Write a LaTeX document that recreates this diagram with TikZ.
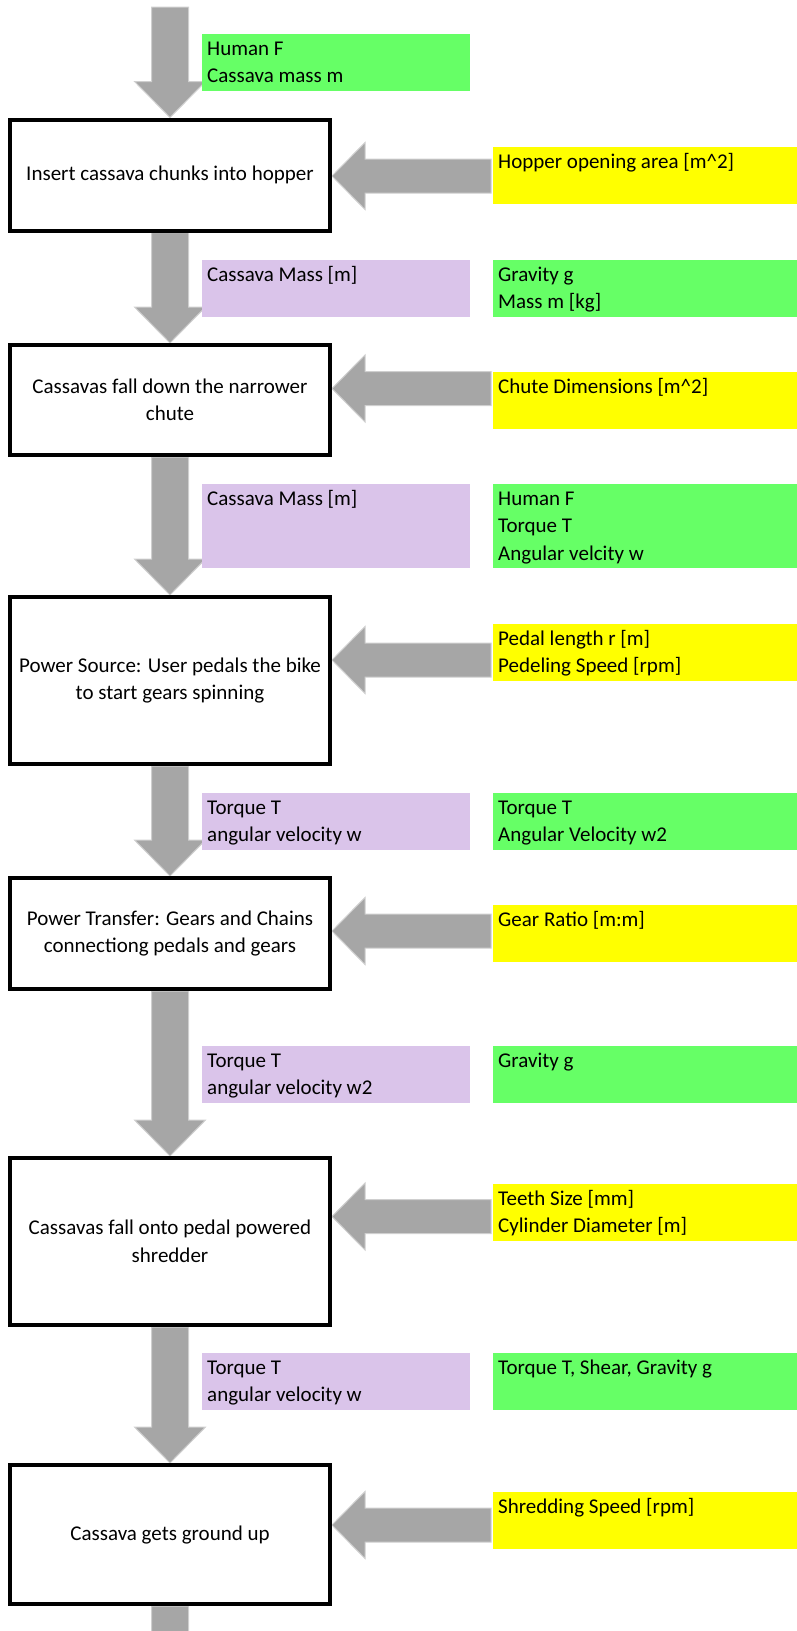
\documentclass[tikz,border=0pt]{standalone}
\usepackage{fontspec}
\setmainfont{Carlito}
\usepackage{tikz}
\usetikzlibrary{calc,backgrounds}

\definecolor{physgreen}{HTML}{66FF66}
\definecolor{designyellow}{HTML}{FFFF00}
\definecolor{flowpurple}{HTML}{DAC4EA}
\definecolor{blkgray}{HTML}{A6A6A6}
\definecolor{blkedge}{HTML}{CFCFCF}

% top aligned text of a coloured box
\newcommand{\ptext}[1]{\parbox[t]{290pt}{\rule{0pt}{19pt}#1}}
% fat down arrow from #1 to the tip #2
\newcommand{\downblk}[2]{%
  \path[blkarrow] let \p1=(#1), \p2=(#2) in
    (\x1-18.5pt,\y1) -- (\x1-18.5pt,\y2+36pt) -- (\x1-35.5pt,\y2+36pt)
    -- (\x1,\y2) -- (\x1+35.5pt,\y2+36pt) -- (\x1+18.5pt,\y2+36pt)
    -- (\x1+18.5pt,\y1) -- cycle;}
% fat left arrow from box #1 to step #2 at height #3
\newcommand{\leftblk}[3]{%
  \path[blkarrow] let \p1=(#1.west |- 0,#3), \p2=(#2.east |- 0,#3) in
    (\x1-2pt,\y1+17pt) -- (\x2+33pt,\y1+17pt) -- (\x2+33pt,\y1+33.5pt)
    -- (\x2,\y1) -- (\x2+33pt,\y1-33.5pt) -- (\x2+33pt,\y1-17pt)
    -- (\x1-2pt,\y1-17pt) -- cycle;}

\begin{document}
\begin{tikzpicture}[x=1pt, y=1pt,
            every node/.style={font=\fontsize{21}{27.5}\selectfont},
            stepbox/.style={draw, line width=4pt, fill=white, align=center,
                            minimum width=320pt, minimum height=111pt},
            param/.style={anchor=north west, inner sep=0pt,
                          minimum width=304pt, minimum height=56.5pt},
            flow/.style={param, minimum width=268pt},
            lbl/.style={anchor=north west, inner xsep=5pt, inner ysep=2.25pt},
            blkarrow/.style={fill=blkgray, draw=blkedge, line width=1pt}]
  \useasboundingbox (0,0) rectangle (797,-1631);
  \clip (0,0) rectangle (797,-1631);

  % process steps
  \node[stepbox] (s1) at (170,-175) {Insert cassava chunks into hopper};
  \node[stepbox, minimum height=110pt] (s2) at (170,-400)
        {Cassavas fall down the narrower\\chute};
  \node[stepbox, minimum height=167pt] (s3) at (170,-680.5)
        {Power Source: User pedals the bike\\to start gears spinning};
  \node[stepbox] (s4) at (170,-933.5)
        {Power Transfer: Gears and Chains\\connectiong pedals and gears};
  \node[stepbox, minimum height=167pt] (s5) at (170,-1241.5)
        {Cassavas fall onto pedal powered\\shredder};
  \node[stepbox, minimum height=139pt] (s6) at (170,-1534.5)
        {Cassava gets ground up};

  % what flows between the steps
  \node[flow, fill=physgreen, label={[lbl, name=g0t]north west:{\ptext{Human F\\Cassava mass m}}}]
        (g0) at (202,-34) {};
  \node[flow, fill=flowpurple, label={[lbl, name=p1t]north west:{\ptext{Cassava Mass [m]}}}]
        (p1) at (202,-260) {};
  \node[flow, fill=flowpurple, minimum height=84pt,
        label={[lbl, name=p2t]north west:{\ptext{Cassava Mass [m]}}}]
        (p2) at (202,-484) {};
  \node[flow, fill=flowpurple, label={[lbl, name=p3t]north west:{\ptext{Torque T\\angular velocity w}}}]
        (p3) at (202,-793) {};
  \node[flow, fill=flowpurple, label={[lbl, name=p4t]north west:{\ptext{Torque T\\angular velocity w2}}}]
        (p4) at (202,-1046) {};
  \node[flow, fill=flowpurple, label={[lbl, name=p5t]north west:{\ptext{Torque T\\angular velocity w}}}]
        (p5) at (202,-1353) {};

  % physics
  \node[param, fill=physgreen, label={[lbl, name=g1t]north west:{\ptext{Gravity g\\Mass m [kg]}}}]
        (g1) at (493,-260) {};
  \node[param, fill=physgreen, minimum height=84pt,
        label={[lbl, name=g2t]north west:{\ptext{Human F\\Torque T\\Angular velcity w}}}]
        (g2) at (493,-484) {};
  \node[param, fill=physgreen, label={[lbl, name=g3t]north west:{\ptext{Torque T\\Angular Velocity w2}}}]
        (g3) at (493,-793) {};
  \node[param, fill=physgreen, label={[lbl, name=g4t]north west:{\ptext{Gravity g}}}]
        (g4) at (493,-1046) {};
  \node[param, fill=physgreen, label={[lbl, name=g5t]north west:{\ptext{Torque T, Shear, Gravity g}}}]
        (g5) at (493,-1353) {};

  % design parameters
  \node[param, fill=designyellow,
        label={[lbl, name=y1t]north west:{\ptext{Hopper opening area [m\textasciicircum 2]}}}]
        (y1) at (493,-147) {};
  \node[param, fill=designyellow,
        label={[lbl, name=y2t]north west:{\ptext{Chute Dimensions [m\textasciicircum 2]}}}]
        (y2) at (493,-372) {};
  \node[param, fill=designyellow,
        label={[lbl, name=y3t]north west:{\ptext{Pedal length r [m]\\Pedeling Speed [rpm]}}}]
        (y3) at (493,-624) {};
  \node[param, fill=designyellow, label={[lbl, name=y4t]north west:{\ptext{Gear Ratio [m:m]}}}]
        (y4) at (493,-905) {};
  \node[param, fill=designyellow,
        label={[lbl, name=y5t]north west:{\ptext{Teeth Size [mm]\\Cylinder Diameter [m]}}}]
        (y5) at (493,-1184) {};
  \node[param, fill=designyellow, label={[lbl, name=y6t]north west:{\ptext{Shredding Speed [rpm]}}}]
        (y6) at (493,-1492) {};

  \coordinate (feed) at (170,-7);
  \coordinate (out) at (170,-1720);

  \begin{scope}[on background layer]
    \downblk{feed}{s1.north}
    \downblk{s1.south}{s2.north}
    \downblk{s2.south}{s3.north}
    \downblk{s3.south}{s4.north}
    \downblk{s4.south}{s5.north}
    \downblk{s5.south}{s6.north}
    \downblk{s6.south}{out}

    \leftblk{y1}{s1}{-176}
    \leftblk{y2}{s2}{-388.5}
    \leftblk{y3}{s3}{-660}
    \leftblk{y4}{s4}{-931}
    \leftblk{y5}{s5}{-1216.5}
    \leftblk{y6}{s6}{-1525}
  \end{scope}
\end{tikzpicture}
\end{document}
